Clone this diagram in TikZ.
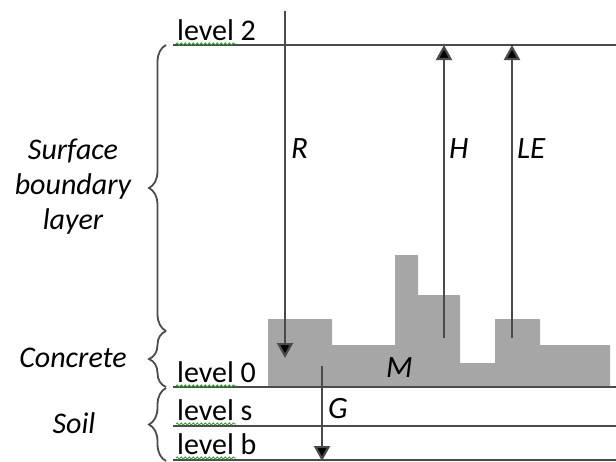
\documentclass[tikz,border=0pt]{standalone}
\usepackage{fontspec}
\setmainfont{Carlito}
\usetikzlibrary{arrows.meta,decorations.pathreplacing,decorations.pathmorphing}
\definecolor{blockgray}{HTML}{A6A6A6}
\definecolor{linegray}{HTML}{4A4A4A}
\definecolor{spellgreen}{HTML}{3A9A3A}
\tikzset{
  lvl/.style={anchor=base west,inner sep=0pt,font=\fontsize{30}{34}\selectfont},
  lab/.style={inner sep=0pt,font=\fontsize{30}{35}\selectfont\itshape,align=center},
  sym/.style={anchor=base west,inner sep=0pt,font=\fontsize{31}{34}\selectfont\itshape},
  levelline/.style={draw=linegray,line width=2.2pt},
  flux/.style={draw=linegray,line width=2.2pt,-{Triangle[width=16pt,length=15pt,fill=black]}},
  bracestyle/.style={draw=black!70,line width=1.8pt,decorate,decoration={brace,amplitude=17pt,aspect=0.5}},
  squiggle/.style={draw=spellgreen,line width=0.9pt,decorate,decoration={snake,amplitude=1.1pt,segment length=4pt}}
}
\begin{document}
\begin{tikzpicture}[x=1pt,y=-1pt]
\useasboundingbox (0,0) rectangle (616,461);
% gray blocks (urban canopy)
\fill[blockgray] (268,387) -- (268,319) -- (332,319) -- (332,345) -- (395,345) -- (395,255)
  -- (418,255) -- (418,295) -- (460,295) -- (460,363) -- (495,363) -- (495,319)
  -- (540,319) -- (540,345) -- (610,345) -- (610,387) -- cycle;
% level lines
\coordinate (l2a) at (173,45);  \coordinate (l2b) at (616,45);
\coordinate (l0a) at (173,387); \coordinate (l0b) at (616,387);
\coordinate (lsa) at (173,426); \coordinate (lsb) at (616,426);
\coordinate (lba) at (173,460); \coordinate (lbb) at (616,460);
\draw[levelline] (l2a) -- (l2b);
\draw[levelline] (l0a) -- (l0b);
\draw[levelline] (lsa) -- (lsb);
\draw[levelline,line width=1.2pt] (lba) -- (lbb);
% level labels
\node[lvl] (lev2) at (177,40) {level 2};
\node[lvl] (lev0) at (177,382) {level 0};
\node[lvl] (levs) at (177,420) {level s};
\node[lvl] (levb) at (177,454) {level b};
\draw[squiggle] (176,44) -- (236,44);
\draw[squiggle] (176,386) -- (236,386);
\draw[squiggle] (176,424) -- (236,424);
\draw[squiggle] (176,458) -- (236,458);
% fluxes
\coordinate (Rtop) at (285,11);   \coordinate (Rbot) at (285,358);
\coordinate (Hbot) at (444,338);  \coordinate (Htop) at (444,45);
\coordinate (LEbot) at (512,338); \coordinate (LEtop) at (512,45);
\coordinate (Gtop) at (322,366);  \coordinate (Gbot) at (322,461);
\draw[flux] (Rtop) -- (Rbot);
\draw[flux] (Hbot) -- (Htop);
\draw[flux] (LEbot) -- (LEtop);
\draw[flux] (Gtop) -- (Gbot);
\node[sym] (R) at (291,158) {R};
\node[sym] (H) at (449,158) {H};
\node[sym] (LE) at (517,158) {LE};
\node[sym] (M) at (386,377) {M};
\node[sym] (G) at (328,418) {G};
% braces
\coordinate (b1a) at (166,331); \coordinate (b1b) at (166,45);
\coordinate (b2a) at (166,387); \coordinate (b2b) at (166,331);
\coordinate (b3a) at (166,461); \coordinate (b3b) at (166,388);
\draw[bracestyle] (b1a) -- (b1b);
\draw[bracestyle] (b2a) -- (b2b);
\draw[bracestyle] (b3a) -- (b3b);
\node[lab] (sbl) at (73,187) {Surface\\boundary\\layer};
\node[lab,anchor=base] (conc) at (73,367) {Concrete};
\node[lab,anchor=base] (soil) at (74,433) {Soil};
\end{tikzpicture}
\end{document}
